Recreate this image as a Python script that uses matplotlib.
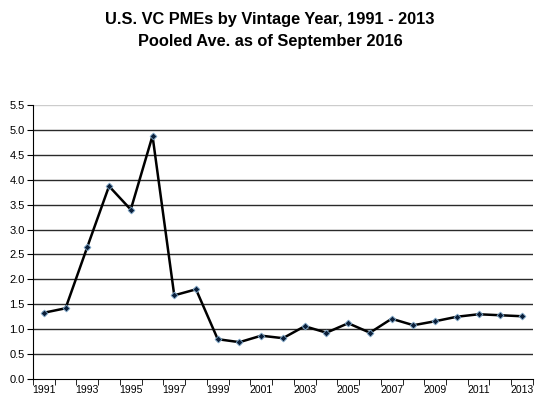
import matplotlib
matplotlib.use("Agg")
import matplotlib.pyplot as plt
from matplotlib.ticker import FixedLocator

plt.rcParams['font.family'] = ['Liberation Sans', 'DejaVu Sans']

# pooled average PME by vintage year
years = list(range(1991, 2014))
pme = [1.33, 1.42, 2.65, 3.87, 3.40, 4.88, 1.68, 1.80, 0.80, 0.74, 0.87, 0.82,
       1.06, 0.93, 1.12, 0.93, 1.21, 1.08, 1.16, 1.25, 1.30, 1.28, 1.26]
year_labels = [str(y) if (y - 1991) % 2 == 0 else '' for y in years]
y_ticks = [i * 0.5 for i in range(12)]

fig = plt.figure(figsize=(5.4, 3.99), dpi=100)
ax = fig.add_axes([0.061, 0.050, 0.926, 0.687])

x = list(range(len(years)))
ax.plot(x, pme, color='black', lw=1.8, zorder=3)
ax.plot(x, pme, ls='none', marker='D', ms=3.5, mfc='#0b1f3a',
        mec='#7fa8c9', mew=0.6, zorder=4)

ax.set_ylim(0, 5.5)
ax.set_xlim(-0.5, len(years) - 0.5)
ax.set_yticks(y_ticks)
ax.set_yticklabels([f'{v:.1f}' for v in y_ticks], fontsize=8)

# grid lines (top one lighter)
for v in y_ticks[1:-1]:
    ax.axhline(v, color='#2a2a2a', lw=1.0, zorder=1)
ax.axhline(y_ticks[-1], color='#cccccc', lw=1.0, zorder=1)

ax.set_xticks(x)
ax.set_xticklabels(year_labels, fontsize=7.5)
ax.tick_params(axis='x', which='major', length=0, pad=4)
ax.xaxis.set_minor_locator(FixedLocator([i - 0.5 for i in range(len(years) + 1)]))
ax.tick_params(axis='x', which='minor', length=4, direction='out', color='black')
ax.tick_params(axis='y', length=4, direction='out', pad=2)

for s in ['top', 'right']:
    ax.spines[s].set_visible(False)

fig.text(0.5, 0.94, 'U.S. VC PMEs by Vintage Year, 1991 - 2013',
         ha='center', fontsize=11.8, fontweight='bold')
fig.text(0.5, 0.885, 'Pooled Ave. as of September 2016',
         ha='center', fontsize=11.8, fontweight='bold')

fig.savefig('out.png', dpi=100)
